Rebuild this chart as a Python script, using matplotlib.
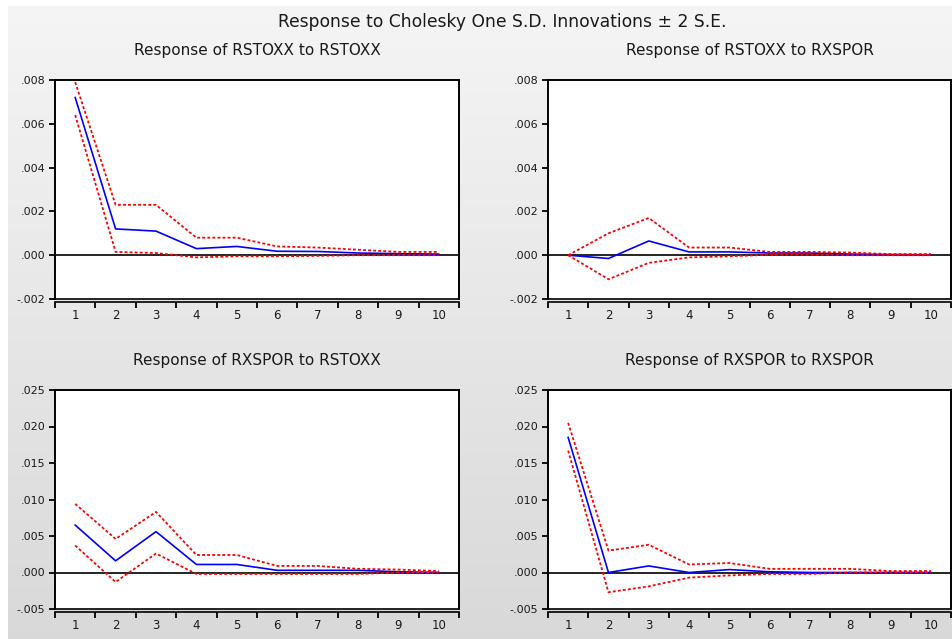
import numpy as np
import matplotlib.pyplot as plt
from matplotlib.patches import Rectangle

plt.rcParams['font.family'] = ['DejaVu Sans']

periods = [1, 2, 3, 4, 5, 6, 7, 8, 9, 10]

# Response of RSTOXX to RSTOXX
rs_rs = [0.0072, 0.0012, 0.0011, 0.0003, 0.0004, 0.00018, 0.00017, 0.0001, 0.00007, 0.00005]
rs_rs_hi = [0.0079, 0.0023, 0.0023, 0.0008, 0.0008, 0.0004, 0.00035, 0.00025, 0.00015, 0.00015]
rs_rs_lo = [0.0064, 0.00015, 0.0001, -0.0001, -0.00005, -0.00005, -0.00003, 0.0, 0.0, 0.0]

# Response of RSTOXX to RXSPOR
rs_rx = [0.0, -0.00015, 0.00065, 0.00015, 0.00015, 0.0001, 0.0001, 0.00005, 0.00003, 0.00002]
rs_rx_hi = [0.0, 0.001, 0.0017, 0.00035, 0.00035, 0.00015, 0.00015, 0.00012, 0.00005, 0.00005]
rs_rx_lo = [0.0, -0.0011, -0.00035, -0.0001, -0.00005, 0.00002, 0.00002, 0.0, 0.0, 0.0]

# Response of RXSPOR to RSTOXX
rx_rs = [0.0065, 0.0016, 0.0056, 0.0011, 0.0011, 0.0003, 0.0003, 0.0003, 0.0001, 0.0]
rx_rs_hi = [0.0094, 0.0046, 0.0083, 0.0024, 0.0024, 0.0009, 0.0009, 0.0005, 0.0004, 0.0002]
rx_rs_lo = [0.0037, -0.0013, 0.0026, -0.0002, -0.0002, -0.0002, -0.0002, -0.0002, 0.0, 0.0]

# Response of RXSPOR to RXSPOR
rx_rx = [0.0185, 0.0, 0.0009, 0.0, 0.0004, 0.0001, 0.0, 0.0, 0.0, 0.0]
rx_rx_hi = [0.0205, 0.003, 0.0038, 0.0011, 0.0013, 0.0005, 0.0005, 0.0005, 0.0002, 0.0002]
rx_rx_lo = [0.0167, -0.0027, -0.0019, -0.0007, -0.0004, -0.0002, -0.0002, 0.0, 0.0, 0.0]

small_ticks = [-0.002, 0.0, 0.002, 0.004, 0.006, 0.008]
big_ticks = [-0.005, 0.0, 0.005, 0.010, 0.015, 0.020, 0.025]

panels = [
    ("Response of RSTOXX to RSTOXX", rs_rs, rs_rs_hi, rs_rs_lo, (-0.002, 0.008), small_ticks),
    ("Response of RSTOXX to RXSPOR", rs_rx, rs_rx_hi, rs_rx_lo, (-0.002, 0.008), small_ticks),
    ("Response of RXSPOR to RSTOXX", rx_rs, rx_rs_hi, rx_rs_lo, (-0.005, 0.025), big_ticks),
    ("Response of RXSPOR to RXSPOR", rx_rx, rx_rx_hi, rx_rx_lo, (-0.005, 0.025), big_ticks),
]

W, H = 952, 639
fig = plt.figure(figsize=(W / 100, H / 100), dpi=100)
fig.patch.set_facecolor('white')

# gray gradient background
bg = fig.add_axes([8 / W, 0, 1 - 8 / W, 1 - 6 / H], zorder=-5)
grad = np.linspace(0.96, 0.85, 256)
img = np.stack([grad, grad, grad], axis=-1)[:, None, :]
bg.imshow(img, aspect='auto', extent=[0, 1, 0, 1], interpolation='bilinear')
bg.axis('off')

fig.text(502 / W, 1 - 22 / H, "Response to Cholesky One S.D. Innovations \u00b1 2 S.E.",
         ha='center', va='center', fontsize=12.3, color='#1a1a1a')

boxes = [
    (55, 80, 459, 299),
    (548, 80, 951, 299),
    (55, 390, 459, 609),
    (548, 390, 951, 609),
]

def fmt(v):
    s = "%.3f" % v
    return s.replace("0.", ".", 1)

for (title, mid, hi, lo, ylim, yticks), (x0, y0, x1, y1) in zip(panels, boxes):
    ax = fig.add_axes([x0 / W, 1 - y1 / H, (x1 - x0) / W, (y1 - y0) / H])
    ax.set_facecolor('white')
    ax.axhline(0, color='black', lw=1.2, zorder=1)
    ax.plot(periods, mid, color='#0000ff', lw=1.2, zorder=3)
    ax.plot(periods, hi, color='#ff0000', lw=1.3, ls=(0, (1.6, 1.2)), zorder=4)
    ax.plot(periods, lo, color='#ff0000', lw=1.3, ls=(0, (1.6, 1.2)), zorder=4)
    ax.set_xlim(0.5, 10.5)
    ax.set_ylim(*ylim)
    ax.set_yticks(yticks)
    ax.set_yticklabels([fmt(v) for v in yticks])
    ax.set_xticks(np.arange(0.5, 11, 1.0))
    ax.set_xticklabels([])
    ax.set_xticks(periods, minor=True)
    ax.set_xticklabels([str(p) for p in periods], minor=True)
    ax.tick_params(axis='x', which='minor', length=0, pad=5, labelsize=8.5, colors='#1a1a1a')
    ax.tick_params(axis='x', which='major', length=4, width=1.3, direction='out', color='black')
    ax.tick_params(axis='y', length=4, width=1.3, direction='out', pad=3, labelsize=8,
                   labelcolor='#1a1a1a', color='black')
    for s in ['top', 'right', 'left']:
        ax.spines[s].set_linewidth(1.2)
    ax.spines['bottom'].set_position(('outward', 2.5))
    ax.spines['bottom'].set_linewidth(1.2)
    ax.add_patch(Rectangle((0, 0), 1, 1, transform=ax.transAxes, fill=False,
                           edgecolor='black', lw=1.2, zorder=5, clip_on=False))
    ax.set_title(title, fontsize=11, color='#1a1a1a', pad=18)

fig.savefig("out.png", dpi=100)
